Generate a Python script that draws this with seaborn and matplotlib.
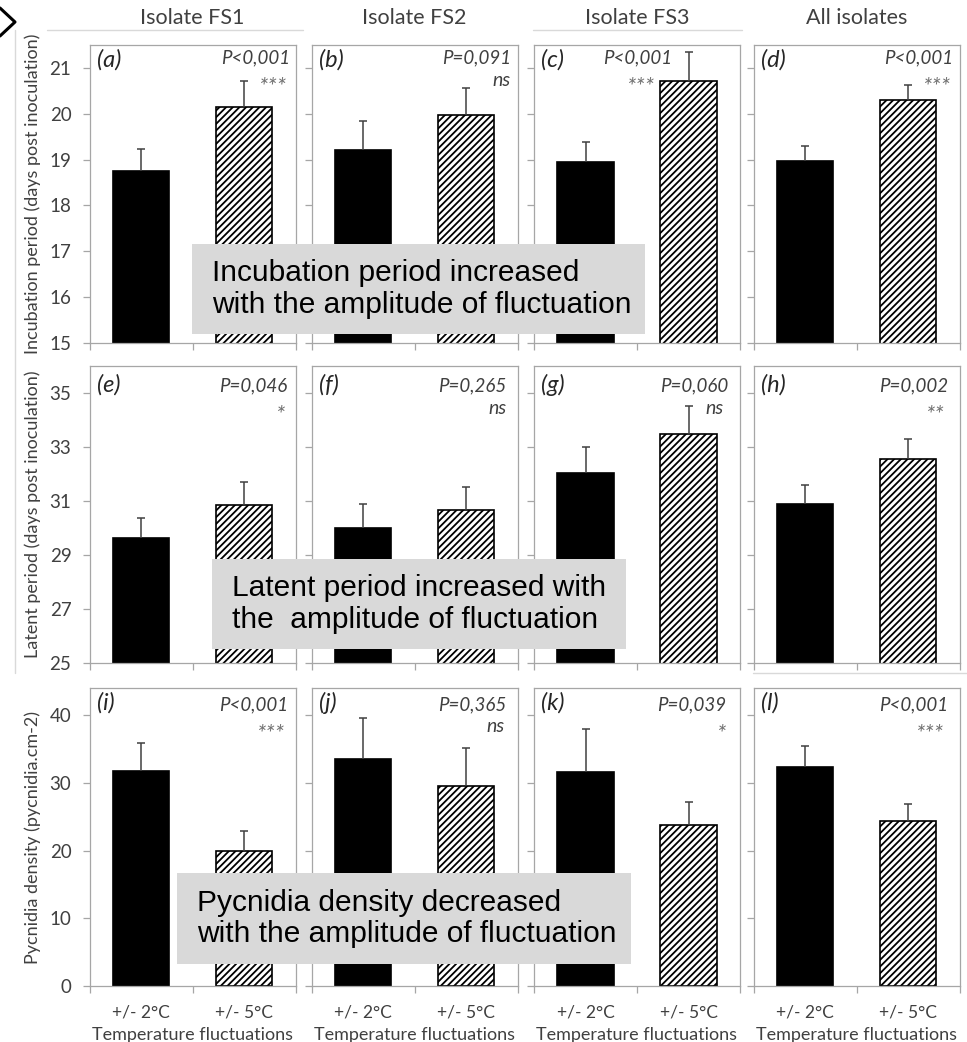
import numpy as np
import pandas as pd
import matplotlib
matplotlib.use("Agg")
import matplotlib.pyplot as plt
import seaborn as sns
from matplotlib.patches import Rectangle
from matplotlib.lines import Line2D

# ---------------- data ----------------
treatments = ["+/- 2°C", "+/- 5°C"]
isolates = ["Isolate FS1", "Isolate FS2", "Isolate FS3", "All isolates"]
panel_letters = [["(a)", "(b)", "(c)", "(d)"],
                 ["(e)", "(f)", "(g)", "(h)"],
                 ["(i)", "(j)", "(k)", "(l)"]]

incubation_mean = [[18.76, 20.15], [19.21, 19.98], [18.95, 20.72], [18.98, 20.29]]
incubation_err = [[0.48, 0.57], [0.64, 0.58], [0.43, 0.63], [0.31, 0.33]]
latent_mean = [[29.62, 30.84], [30.01, 30.67], [32.05, 33.47], [30.89, 32.56]]
latent_err = [[0.74, 0.87], [0.87, 0.86], [0.96, 1.06], [0.70, 0.75]]
pycnidia_mean = [[31.7, 19.9], [33.5, 29.6], [31.6, 23.8], [32.3, 24.4]]
pycnidia_err = [[4.2, 3.0], [6.1, 5.5], [6.4, 3.4], [3.1, 2.5]]

incubation_p = ["P<0,001", "P=0,091", "P<0,001", "P<0,001"]
incubation_sig = ["***", "ns", "***", "***"]
latent_p = ["P=0,046", "P=0,265", "P=0,060", "P=0,002"]
latent_sig = ["*", "ns", "ns", "**"]
pycnidia_p = ["P<0,001", "P=0,365", "P=0,039", "P<0,001"]
pycnidia_sig = ["***", "ns", "*", "***"]

row_labels = ["Incubation period (days post inoculation)",
              "Latent period (days post inoculation)",
              "Pycnidia density (pycnidia.cm-2)"]
incubation_ticks = [15, 16, 17, 18, 19, 20, 21]
latent_ticks = [25, 27, 29, 31, 33, 35]
pycnidia_ticks = [0, 10, 20, 30, 40]
x_label = "Temperature fluctuations"
messages = ["Incubation period increased\nwith the amplitude of fluctuation",
            "Latent period increased with\nthe  amplitude of fluctuation",
            "Pycnidia density decreased\nwith the amplitude of fluctuation"]

means = [incubation_mean, latent_mean, pycnidia_mean]
errs = [incubation_err, latent_err, pycnidia_err]
pvals = [incubation_p, latent_p, pycnidia_p]
sigs = [incubation_sig, latent_sig, pycnidia_sig]
yticks = [incubation_ticks, latent_ticks, pycnidia_ticks]

# ---------------- style / layout ----------------
W, H = 967, 1042
sns.set_theme(style="white")
plt.rcParams["font.family"] = ["Lato", "DejaVu Sans"]
plt.rcParams["hatch.color"] = "black"
plt.rcParams["hatch.linewidth"] = 1.3

ylims = [(15, 21.5), (25, 36), (0, 44)]
row_tops = [45, 366, 688]
row_bottoms = [343, 663, 986]
col_lefts = [89.5, 311.5, 534, 753.5]
col_width = 206
GRAY = "#a6a6a6"
TXT = "#404040"

# annotation offsets in pixels: (letter_dy, p_dy, sig_dy)
row_offsets = [(15, 13, 35), (19, 20, 42), (15, 17, 39)]
# right offsets (p_dx, sig_dx) per panel
right_offsets = [[(5, 9), (6, 7), (68, 86), (6, 9)],
                 [(8, 11), (11, 11), (12, 16), (11, 16)],
                 [(7, 11), (11, 13), (14, 15), (11, 16)]]


def fx(px):
    return px / W


def fy(py):
    return 1 - py / H


fig = plt.figure(figsize=(W / 100, H / 100), dpi=100)

for r in range(3):
    for c in range(4):
        left = col_lefts[c]
        ax = fig.add_axes([fx(left), fy(row_bottoms[r]), col_width / W,
                           (row_bottoms[r] - row_tops[r]) / H])
        df = pd.DataFrame({"treatment": treatments, "value": means[r][c]})
        sns.barplot(data=df, x="treatment", y="value", hue="treatment",
                    order=treatments, hue_order=treatments,
                    palette=["black", "white"], edgecolor="black",
                    linewidth=1.2, width=0.55, legend=False, ax=ax)
        for p in ax.patches:
            if p.get_facecolor()[0] > 0.5:
                p.set_hatch("/////")
        eb = ax.errorbar([0, 1], means[r][c], yerr=[[0, 0], errs[r][c]],
                         fmt="none", ecolor="#404040", elinewidth=1.1,
                         capsize=3, capthick=1.1, zorder=1)
        eb[1][0].set_visible(False)

        ax.set_xlim(-0.5, 1.5)
        ax.set_ylim(*ylims[r])
        ax.set_yticks(yticks[r])
        for s in ax.spines.values():
            s.set_color(GRAY)
            s.set_linewidth(0.9)
            s.set_visible(True)
        ax.tick_params(axis="y", direction="out", length=5, width=0.9,
                       color=GRAY, labelcolor=TXT, labelsize=13.5, pad=8,
                       left=True)
        if c > 0:
            ax.set_yticklabels([])
        ax.set_xticks([-0.5, 0.5, 1.5], minor=True)
        ax.tick_params(axis="x", which="minor", direction="out", length=5,
                       width=0.9, color=GRAY, bottom=True)
        ax.tick_params(axis="x", which="major", length=0, labelsize=12.5,
                       labelcolor=TXT, pad=13)
        ax.set_ylabel("")
        if r == 2:
            ax.set_xlabel(x_label, fontsize=13, color=TXT, labelpad=5)
        else:
            ax.set_xticklabels([])
            ax.set_xlabel("")

        ldy, pdy, sdy = row_offsets[r]
        pdx, sdx = right_offsets[r][c]
        ax.annotate(panel_letters[r][c], xy=(0, 1), xycoords="axes fraction",
                    xytext=(7, -ldy), textcoords="offset pixels",
                    ha="left", va="center", fontsize=17, style="italic",
                    color="#262626")
        ax.annotate(pvals[r][c], xy=(1, 1), xycoords="axes fraction",
                    xytext=(-pdx, -pdy), textcoords="offset pixels",
                    ha="right", va="center", fontsize=13.5, style="italic",
                    color=TXT)
        is_star = sigs[r][c].startswith("*")
        ax.annotate(sigs[r][c], xy=(1, 1), xycoords="axes fraction",
                    xytext=(-sdx, -sdy - (7 if is_star else 0)),
                    textcoords="offset pixels",
                    ha="right", va="center",
                    fontsize=17 if is_star else 14, style="italic",
                    color="#6f6f6f" if is_star else TXT)

# column titles
for c, name in enumerate(isolates):
    fig.text(fx(col_lefts[c] + col_width / 2), fy(18), name, ha="center",
             va="center", fontsize=15.5, color=TXT)

# row labels
for r, lab in enumerate(row_labels):
    fig.text(fx(33), fy((row_tops[r] + row_bottoms[r]) / 2), lab,
             rotation=90, ha="center", va="center", fontsize=13, color=TXT)

# faint chart-area borders
for (x0, y0, x1, y1) in [(15, 30, 15, 673), (47, 30, 303, 30),
                         (533, 30, 742, 30), (753, 673, 967, 673)]:
    fig.add_artist(Line2D([fx(x0), fx(x1)], [fy(y0), fy(y1)],
                          transform=fig.transFigure, color="#d9d9d9", lw=1))
# chevron
fig.add_artist(Line2D([fx(0), fx(15), fx(0)], [fy(8), fy(22), fy(36)],
                      transform=fig.transFigure, color="black", lw=2.2))

# overlay message boxes
boxes = [(192, 244, 645, 334, 212), (212, 559, 626, 649, 232),
         (177, 873, 631, 964, 197)]
for (x0, y0, x1, y1, tx), msg in zip(boxes, messages):
    fig.add_artist(Rectangle((fx(x0), fy(y1)), (x1 - x0) / W, (y1 - y0) / H,
                             transform=fig.transFigure, facecolor="#d9d9d9",
                             edgecolor="none", zorder=10))
    fig.text(fx(tx), fy((y0 + y1) / 2), msg, ha="left", va="center",
             fontsize=21.5, family=["Liberation Sans", "DejaVu Sans"],
             color="black", zorder=11, linespacing=1.17)

fig.savefig("out.png", dpi=100)
